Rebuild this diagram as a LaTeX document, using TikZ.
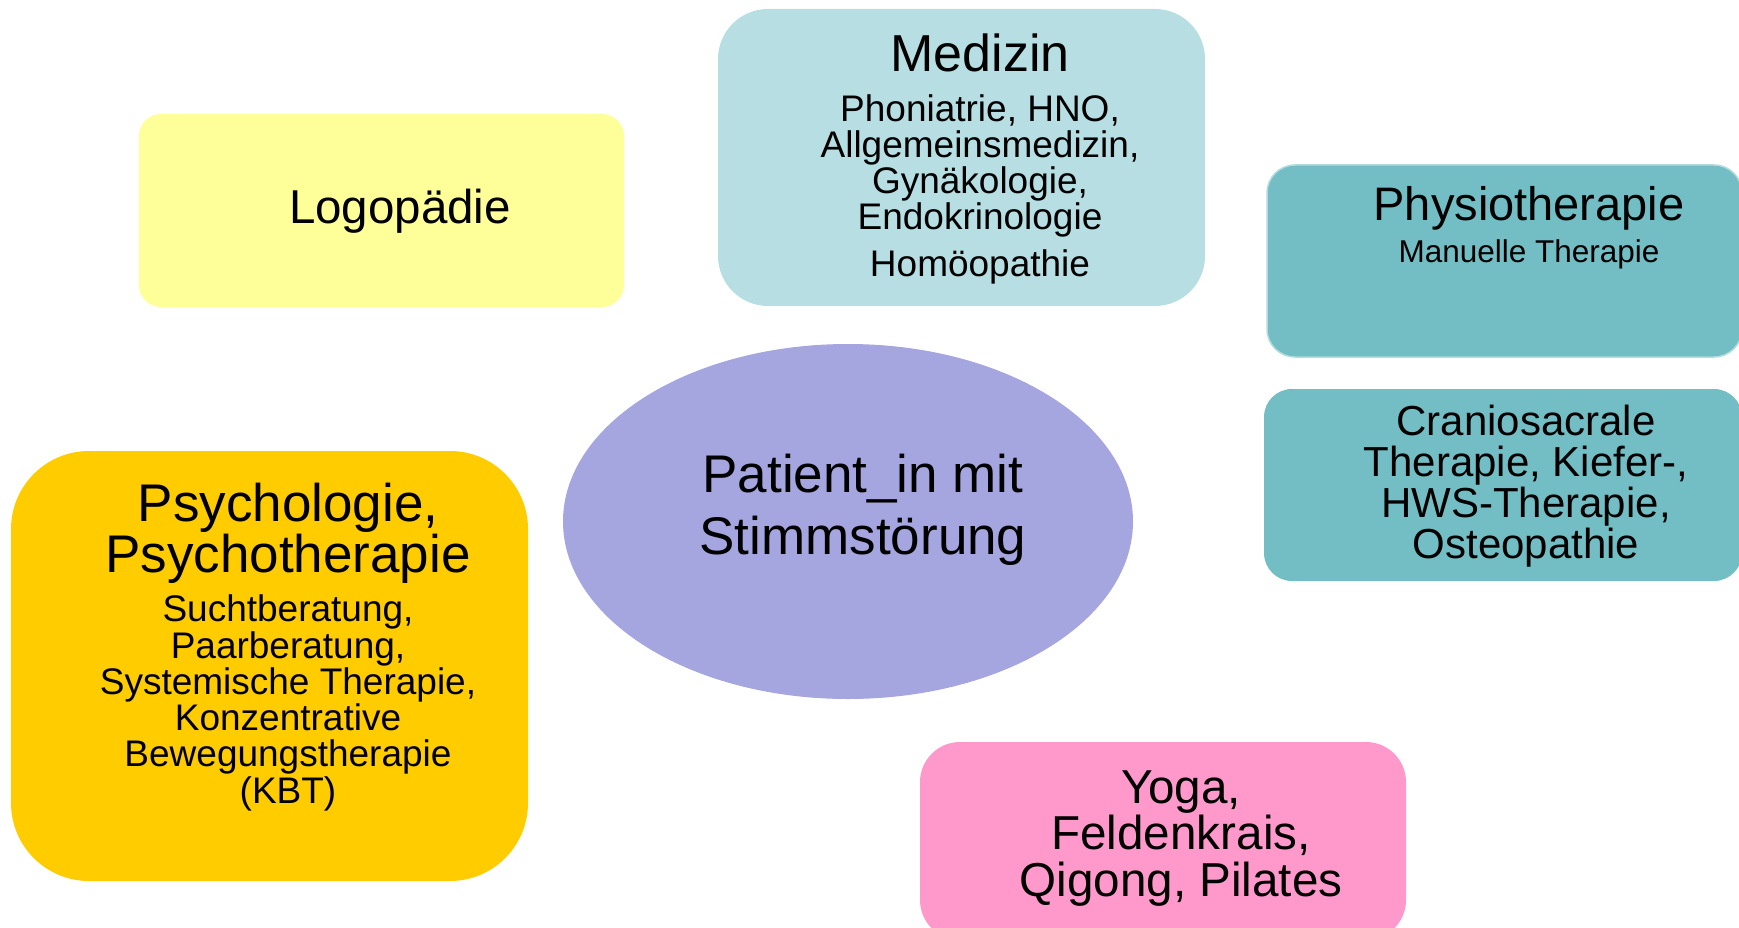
\documentclass[tikz,border=0pt]{standalone}
\usepackage{fontspec}
\setmainfont{Liberation Sans}
\usetikzlibrary{positioning,shapes.geometric}
\definecolor{logo}{HTML}{FFFF99}
\definecolor{med}{HTML}{B7DEE2}
\definecolor{physio}{HTML}{72BEC4}
\definecolor{psy}{HTML}{FFCC00}
\definecolor{mov}{HTML}{FF99CC}
\definecolor{pat}{HTML}{A5A5DF}
\newcommand{\fsz}[2]{\fontsize{#1}{#2}\selectfont\lineskiplimit=-100pt}
\tikzset{
  area/.style={rectangle, rounded corners=#1, inner sep=0pt, outer sep=0pt},
  txt/.style={inner sep=0pt, align=center, anchor=north},
}

\begin{document}
\begin{tikzpicture}[x=1pt,y=-1pt]
  \useasboundingbox (0,0) rectangle (1739,928);
  % Bereiche
  \node[area=22pt,fill=logo,minimum width=485pt,minimum height=193pt](logo) at (381.5,210.5){};
  \node[area=50pt,fill=med,minimum width=487pt,minimum height=297pt](med) at (961.5,157.5){};
  \node[area=28pt,fill=physio,draw=physio!55!white,line width=1.5pt,minimum width=475pt,minimum height=192pt](physio) at (1504.5,261){};
  \node[area=28pt,fill=physio,minimum width=478pt,minimum height=192pt](cranio) at (1503,485){};
  \node[area=78pt,fill=psy,minimum width=517pt,minimum height=430pt](psy) at (269.5,666){};
  \node[area=40pt,fill=mov,minimum width=486pt,minimum height=198pt](mov) at (1163,841){};
  \node[ellipse,fill=pat,inner sep=0pt,minimum width=570pt,minimum height=355pt](pat) at (848,521.5){};
  % Texte
  \node[txt,anchor=base,font=\fsz{47.5}{57}](logo-t) at (400,223){Logopädie};
  \node[txt,font=\fsz{37}{36}](med-t) at (980,34){{\fsz{52}{60}Medizin}\\[14pt]Phoniatrie, HNO,\\Allgemeinsmedizin,\\Gynäkologie,\\Endokrinologie\\[11pt]Homöopathie};
  \node[txt,font=\fsz{31.5}{42}](physio-t) at (1529,186){{\fsz{47}{56}Physiotherapie}\\Manuelle Therapie};
  \node[txt,font=\fsz{42}{41}](cranio-t) at (1526,404.5){Craniosacrale\\Therapie, Kiefer-,\\HWS-Therapie,\\Osteopathie};
  \node[txt,font=\fsz{53}{62}](pat-t) at (863,454){Patient\_in mit\\Stimmstörung};
  \node[txt,font=\fsz{37}{36.3}](psy-t) at (288,482.5){{\fsz{53}{51}Psychologie,}\\[15pt]{\fsz{53}{51}Psychotherapie}\\[13pt]Suchtberatung,\\Paarberatung,\\Systemische Therapie,\\Konzentrative\\Bewegungstherapie\\(KBT)};
  \node[txt,font=\fsz{47.6}{46.5}](mov-t) at (1181,770.5){Yoga,\\Feldenkrais,\\Qigong, Pilates};
\end{tikzpicture}
\end{document}
